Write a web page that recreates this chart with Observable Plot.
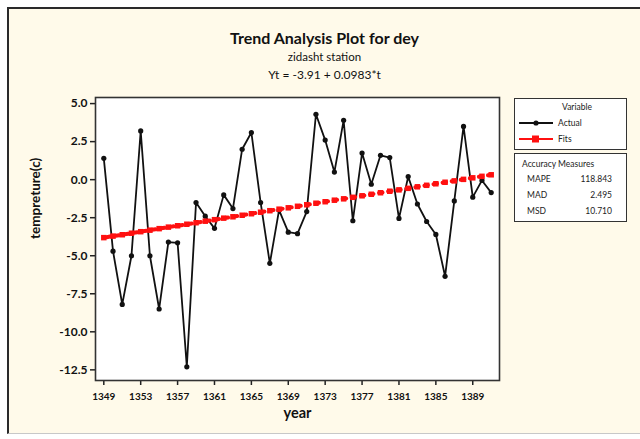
<!DOCTYPE html>
<html><head><meta charset="utf-8">
<script src="https://cdn.jsdelivr.net/npm/d3@7"></script>
<script src="https://cdn.jsdelivr.net/npm/@observablehq/plot@0.6"></script>
<style>
body{margin:0;background:#fff;font-family:Lato,"DejaVu Sans",sans-serif;}
#wrap{position:relative;width:640px;height:439px;overflow:hidden;}
#panel{position:absolute;left:7px;top:7px;width:640px;height:424px;background:#fffaea;border-top:2px solid #2a2a2a;border-left:2px solid #2a2a2a;border-bottom:1px solid #c8c8c8;}
.t{position:absolute;left:9px;width:631px;text-align:center;color:#111;white-space:nowrap;}
#chart{position:absolute;left:0;top:0;}
.box{position:absolute;background:#fff;border:1.5px solid #333;box-sizing:border-box;}
.lt{position:absolute;font-size:8.5px;color:#222;white-space:nowrap;line-height:10px;}
</style>
</head><body>
<div id="wrap">
  <div id="panel"></div>
  <div class="t" style="top:28px;font-size:16px;font-weight:bold;line-height:20px;">Trend Analysis Plot for dey</div>
  <div class="t" style="top:49px;font-size:11.5px;line-height:16px;">zidasht station</div>
  <div class="t" style="top:67px;font-size:12px;line-height:16px;">Yt = -3.91 + 0.0983*t</div>
  <div id="chart"></div>
  <div class="box" style="left:514px;top:98px;width:113px;height:52px;">
    <div class="lt" style="left:0;width:124px;text-align:center;top:3px;">Variable</div>
    <svg style="position:absolute;left:0;top:0" width="110" height="50">
      <line x1="4" y1="24" x2="38" y2="24" stroke="#111" stroke-width="1.8"/>
      <circle cx="21" cy="24" r="2.6" fill="#111"/>
      <line x1="4" y1="40" x2="38" y2="40" stroke="#ff1010" stroke-width="2"/>
      <rect x="17" y="36.5" width="7" height="7" fill="#ff1010"/>
    </svg>
    <div class="lt" style="left:43px;top:19px;">Actual</div>
    <div class="lt" style="left:43px;top:35px;">Fits</div>
  </div>
  <div class="box" style="left:514px;top:153px;width:113px;height:69px;">
    <div class="lt" style="left:7px;top:5px;">Accuracy Measures</div>
    <div class="lt" style="left:12px;top:20px;">MAPE</div>
    <div class="lt" style="right:14px;top:20px;text-align:right;">118.843</div>
    <div class="lt" style="left:12px;top:36px;">MAD</div>
    <div class="lt" style="right:14px;top:36px;text-align:right;">2.495</div>
    <div class="lt" style="left:12px;top:52px;">MSD</div>
    <div class="lt" style="right:14px;top:52px;text-align:right;">10.710</div>
  </div>
</div>
<script>
const years = [1349,1350,1351,1352,1353,1354,1355,1356,1357,1358,1359,1360,1361,1362,1363,1364,1365,1366,1367,1368,1369,1370,1371,1372,1373,1374,1375,1376,1377,1378,1379,1380,1381,1382,1383,1384,1385,1386,1387,1388,1389,1390,1391];
const actual = [1.4,-4.7,-8.2,-5.0,3.2,-5.0,-8.5,-4.1,-4.15,-12.3,-1.5,-2.4,-3.2,-1.0,-1.9,2.0,3.1,-1.5,-5.5,-2.0,-3.45,-3.55,-2.1,4.3,2.6,0.5,3.9,-2.7,1.75,-0.3,1.6,1.45,-2.55,0.2,-1.6,-2.75,-3.6,-6.35,-1.4,3.5,-1.15,-0.05,-0.85];
const fits = [-3.81,-3.71,-3.62,-3.52,-3.42,-3.32,-3.22,-3.12,-3.03,-2.93,-2.83,-2.73,-2.63,-2.53,-2.44,-2.34,-2.24,-2.14,-2.04,-1.94,-1.85,-1.75,-1.65,-1.55,-1.45,-1.35,-1.26,-1.16,-1.06,-0.96,-0.86,-0.76,-0.67,-0.57,-0.47,-0.37,-0.27,-0.17,-0.08,0.02,0.12,0.22,0.32];
const xTicks = [1349,1353,1357,1361,1365,1369,1373,1377,1381,1385,1389];
const yTicks = [5.0,2.5,0.0,-2.5,-5.0,-7.5,-10.0,-12.5];
const xLabel = "year";
const yLabel = "tempreture(c)";

const data = years.map((y,i)=>({year:y, actual:actual[i], fit:fits[i]}));

const chart = Plot.plot({
  width:640, height:439,
  marginLeft:95, marginRight:141, marginTop:97, marginBottom:59,
  style:{background:"transparent", fontFamily:"Lato, 'DejaVu Sans', sans-serif", color:"#111"},
  x:{domain:[1348.1,1391.9]},
  y:{domain:[-13.2,5.4]},
  marks:[
    Plot.frame({fill:"white"}),
    Plot.axisX(xTicks,{tickFormat:"d", tickSize:5, tickPadding:7, fontSize:10, fontWeight:"bold", label:null, stroke:"#222", strokeWidth:1.5}),
    Plot.axisY(yTicks,{tickFormat:d=>d.toFixed(1), tickSize:5, tickPadding:3, fontSize:12, fontWeight:"bold", label:null, stroke:"#222", strokeWidth:1.5}),
    Plot.line(data,{x:"year", y:"actual", stroke:"#111", strokeWidth:1.8}),
    Plot.dot(data,{x:"year", y:"actual", r:2.6, fill:"#111"}),
    Plot.line(data,{x:"year", y:"fit", stroke:"#ff1010", strokeWidth:4, strokeDasharray:"3.5 5.7", strokeDashoffset:-2.85}),
    Plot.dot(data,{x:"year", y:"fit", symbol:"square", r:3.1, fill:"#ff1010"}),
    Plot.frame({stroke:"#333", strokeWidth:1.6}),
    Plot.text([xLabel],{text:d=>d, frameAnchor:"bottom", dy:37, fontSize:14.5, fontWeight:"bold", fill:"#111"}),
    Plot.text([yLabel],{text:d=>d, frameAnchor:"left", dx:-60, rotate:-90, fontSize:13.5, fontWeight:"bold", fill:"#111"})
  ]
});
document.getElementById("chart").appendChild(chart);
</script>
</body></html>
